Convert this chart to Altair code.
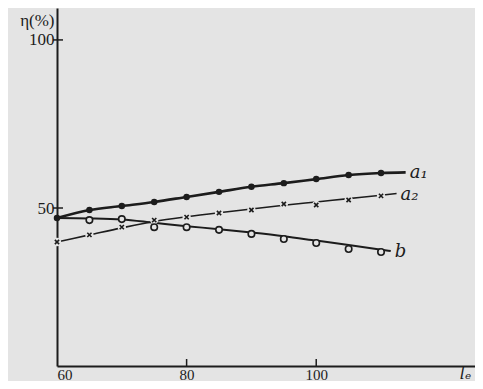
import altair as alt
import pandas as pd

INK = "#1c1c1c"
BG = "#e4e4e4"

# ---- data ----
x_pts = [60, 65, 70, 75, 80, 85, 90, 95, 100, 105, 110]
a1_pts = [47.0, 49.4, 50.6, 51.8, 53.3, 54.8, 56.3, 57.4, 58.6, 59.8, 60.4]
a2_pts = [39.9, 42.0, 44.3, 46.4, 47.3, 48.5, 49.4, 51.2, 50.9, 52.4, 53.6]
b_x = [65, 70, 75, 80, 85, 90, 95, 100, 105, 110]
b_pts = [46.4, 46.7, 44.3, 44.3, 43.5, 42.3, 40.8, 39.6, 37.8, 36.9]

a1_line_x = [60, 65, 70, 75, 80, 85, 90, 95, 100, 105, 110, 113.8]
a1_line_y = [47.0, 49.4, 50.6, 51.8, 53.3, 54.8, 56.3, 57.4, 58.6, 59.8, 60.4, 60.6]
a2_line_x = [60, 65, 70, 75, 80, 85, 90, 95, 100, 105, 110, 112.4]
a2_line_y = [39.9, 42.0, 44.1, 46.0, 47.4, 48.6, 49.7, 50.8, 51.8, 52.8, 53.8, 54.3]
b_line_x = [60, 65, 70, 75, 80, 85, 90, 95, 100, 105, 111.5]
b_line_y = [47.0, 46.9, 46.6, 45.6, 44.6, 43.7, 42.7, 41.6, 40.3, 39.0, 37.2]

series_labels = ["a₁", "a₂", "b"]
x_ticks = [60, 80, 100]
y_ticks = [50, 100]

xs = alt.Scale(domain=[60, 124.5], nice=False, zero=False)
ys = alt.Scale(domain=[3, 109.5], nice=False, zero=False)

AX = alt.Axis(
    values=x_ticks, ticks=False, grid=False, domainColor=INK, domainWidth=2,
    labelFont="Liberation Serif", labelFontSize=15, labelColor=INK,
    labelFlush=True, labelPadding=1,
    title="lₑ", titleFont="DejaVu Serif", titleFontStyle="italic",
    titleFontWeight="normal", titleFontSize=16, titleColor=INK,
    titleX=408, titleY=15, titleAlign="center", titleBaseline="bottom")
AY = alt.Axis(
    values=y_ticks, ticks=False, grid=False, domainColor=INK, domainWidth=2,
    labelFont="Liberation Serif", labelFontSize=17, labelColor=INK,
    labelPadding=3,
    title="η(%)", titleFont="Liberation Serif", titleFontWeight="normal",
    titleFontSize=17, titleColor=INK, titleAngle=0, titleAlign="right",
    titleBaseline="middle", titleX=-3, titleY=12)


def line_df(xv, yv):
    return pd.DataFrame({"x": xv, "y": yv})


def X():
    return alt.X("x:Q", scale=xs, axis=AX)


def Y():
    return alt.Y("y:Q", scale=ys, axis=AY)


a1_line = alt.Chart(line_df(a1_line_x, a1_line_y)).mark_line(
    color=INK, strokeWidth=2.6, interpolate="monotone").encode(x=X(), y=Y())
a2_line = alt.Chart(line_df(a2_line_x, a2_line_y)).mark_line(
    color=INK, strokeWidth=1.6, interpolate="monotone").encode(x=X(), y=Y())
b_line = alt.Chart(line_df(b_line_x, b_line_y)).mark_line(
    color=INK, strokeWidth=2.0, interpolate="monotone").encode(x=X(), y=Y())

a1_pts_l = alt.Chart(line_df(x_pts, a1_pts)).mark_point(
    shape="circle", filled=True, color=INK, size=42, opacity=1).encode(x=X(), y=Y())

a2_gap = alt.Chart(line_df(x_pts, a2_pts)).mark_point(
    shape="circle", filled=True, color=BG, size=70, opacity=1).encode(x=X(), y=Y())
a2_pts_l = alt.Chart(line_df(x_pts, a2_pts)).mark_point(
    shape="M-1,-1L1,1M1,-1L-1,1", filled=False, color=INK, size=18,
    strokeWidth=1.6, opacity=1).encode(x=X(), y=Y())

b_pts_l = alt.Chart(line_df(b_x, b_pts)).mark_point(
    shape="circle", filled=True, fill=BG, stroke=INK, strokeWidth=1.6,
    size=42, opacity=1).encode(x=X(), y=Y())

lab_df = pd.DataFrame({
    "x": [a1_line_x[-1], a2_line_x[-1], b_line_x[-1]],
    "y": [a1_line_y[-1], a2_line_y[-1], b_line_y[-1]],
    "t": series_labels,
})
labels = alt.Chart(lab_df).mark_text(
    align="left", baseline="middle", dx=4, dy=1, font="DejaVu Serif",
    fontStyle="italic", fontSize=18, color=INK).encode(x=X(), y=Y(), text="t:N")

xt = alt.Chart(pd.DataFrame({"x": x_ticks[1:]})).mark_rule(
    color=INK, strokeWidth=1.5).encode(x=X(), y=alt.value(358), y2=alt.value(351))
yt = alt.Chart(pd.DataFrame({"y": y_ticks})).mark_rule(
    color=INK, strokeWidth=1.5).encode(y=Y(), x=alt.value(-4), x2=alt.value(6))

chart = alt.layer(
    a1_line, a2_line, b_line, a2_gap, a2_pts_l, b_pts_l, a1_pts_l, labels, xt, yt
).properties(
    width=418, height=358,
    autosize=alt.AutoSizeParams(type="none"),
    padding={"left": 49, "top": 0, "right": 0, "bottom": 15},
).configure(background=BG).configure_view(stroke=None)

chart.save("out.html", embed_options={"renderer": "svg", "actions": False})
